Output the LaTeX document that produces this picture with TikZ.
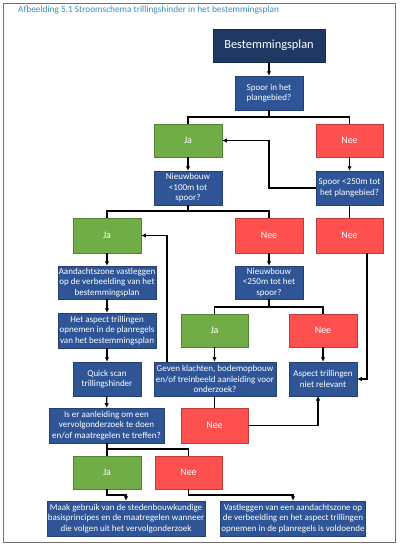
\documentclass[tikz,border=0pt]{standalone}
\usepackage{fontspec}
\setmainfont{Carlito}
\usetikzlibrary{arrows.meta,calc}
\definecolor{navy}{HTML}{203864}
\definecolor{bblue}{HTML}{2F5597}
\definecolor{ggreen}{HTML}{70AD47}
\definecolor{rred}{HTML}{FF5050}
\definecolor{ttl}{HTML}{3A8DBF}
\definecolor{framegray}{HTML}{707070}
\begin{document}
\begin{tikzpicture}[x=1pt,y=-1pt,
  box/.style={draw=#1!75!black, fill=#1, line width=0.5pt, text=white, align=center,
    inner sep=1pt, font=\fontsize{9}{10.5}\selectfont},
  qbox/.style={box=bblue},
  topbox/.style={box=navy, font=\fontsize{12.4}{14}\selectfont},
  jabox/.style={box=ggreen, font=\fontsize{10}{12}\selectfont},
  neebox/.style={box=rred, font=\fontsize{10}{12}\selectfont},
  ln/.style={draw=black, line width=1.1pt},
  arr/.style={ln, -{Latex[length=4.5pt,width=4.5pt]}},
  titlestyle/.style={text=ttl, font=\fontsize{9.3}{11}\selectfont, inner sep=0pt},
  framestyle/.style={draw=framegray, line width=0.8pt}
]
\useasboundingbox (0,0) rectangle (404,546);
\draw[framestyle] (3,3) rectangle (395,542);
\node[titlestyle, anchor=west] (title) at (18,10) {Afbeelding 5.1 Stroomschema trillingshinder in het bestemmingsplan};

% boxes
\node[topbox, minimum width=112, minimum height=33] (best) at (269,45.5) {Bestemmingsplan};
\node[qbox, minimum width=68, minimum height=34] (spoor) at (269,93) {Spoor in het\\plangebied?};
\node[jabox, minimum width=68, minimum height=33] (ja1) at (188,140.5) {Ja};
\node[neebox, minimum width=67, minimum height=33] (nee1) at (349.5,140.5) {Nee};
\node[qbox, minimum width=68, minimum height=34] (nb100) at (188,188) {Nieuwbouw\\<100m tot\\spoor?};
\node[qbox, minimum width=67, minimum height=34] (sp250) at (349.5,188) {Spoor <250m tot\\het plangebied?};
\node[jabox, minimum width=68, minimum height=35] (ja2) at (107,235.5) {Ja};
\node[neebox, minimum width=68, minimum height=35] (nee2) at (269,235.5) {Nee};
\node[neebox, minimum width=67, minimum height=35] (nee3) at (349.5,235.5) {Nee};
\node[qbox, minimum width=98, minimum height=33] (aand) at (107,282.5) {Aandachtszone vastleggen\\op de verbeelding van het\\bestemmingsplan};
\node[qbox, minimum width=68, minimum height=33] (nb250) at (269,282.5) {Nieuwbouw\\<250m tot het\\spoor?};
\node[qbox, minimum width=98, minimum height=35] (aspect) at (107,330.5) {Het aspect trillingen\\opnemen in de planregels\\van het bestemmingsplan};
\node[jabox, minimum width=67, minimum height=33] (ja3) at (214.5,330.5) {Ja};
\node[neebox, minimum width=68, minimum height=33] (nee4) at (323,330.5) {Nee};
\node[qbox, minimum width=68, minimum height=34] (quick) at (107,379) {Quick scan\\trillingshinder};
\node[qbox, minimum width=122, minimum height=34] (geven) at (215,379) {Geven klachten, bodemopbouw\\en/of treinbeeld aanleiding voor\\onderzoek?};
\node[qbox, minimum width=68, minimum height=34] (aspnr) at (323,379) {Aspect trillingen\\niet relevant};
\node[qbox, minimum width=115, minimum height=35] (iser) at (106.5,425.5) {Is er aanleiding om een\\vervolgonderzoek te doen\\en/of maatregelen te treffen?};
\node[neebox, minimum width=67, minimum height=35] (nee5) at (214.5,425.5) {Nee};
\node[jabox, minimum width=68, minimum height=33] (ja4) at (107,472.5) {Ja};
\node[neebox, minimum width=67, minimum height=33] (nee6) at (188.5,472.5) {Nee};
\node[qbox, minimum width=158, minimum height=35] (maak) at (126,518.5) {Maak gebruik van de stedenbouwkundige\\basisprincipes en de maatregelen wanneer\\die volgen uit het vervolgonderzoek};
\node[qbox, minimum width=144, minimum height=35] (vast) at (293,518.5) {Vastleggen van een aandachtszone op\\de verbeelding en het aspect trillingen\\opnemen in de planregels is voldoende};

% junction coordinates
\coordinate (j1) at (269,117);
\coordinate (j2) at (188,211);
\coordinate (j3) at (269,307);
\coordinate (j4) at (107,449);
\coordinate (j5) at (126,495);
\coordinate (j6) at (293,495);
\coordinate (k1) at (269,188);
\coordinate (k2) at (367,253);
\coordinate (k3) at (167,362);
\coordinate (k4) at (318,396);

% connectors
\draw[arr] (best) -- (spoor);
\draw[ln] (spoor.south) -- (j1) -| (ja1.north);
\draw[ln] (j1) -| (nee1.north);
\draw[arr] (ja1) -- (nb100);
\draw[arr] (nee1) -- (sp250);
\draw[arr] (sp250.west) -- (k1) |- (ja1.east);
\draw[ln] (nb100.south) -- (j2) -| (ja2.north);
\draw[ln] (j2) -| (nee2.north);
\draw[ln] (sp250) -- (nee3);
\draw[arr] (ja2) -- (aand);
\draw[arr] (nee2) -- (nb250);
\draw[arr] (aand) -- (aspect);
\draw[arr] (aspect) -- (quick);
\draw[arr] (quick) -- (iser);
\draw[ln] (nb250.south) -- (j3) -| (ja3.north);
\draw[ln] (j3) -| (nee4.north);
\draw[arr] (ja3.south) -- (ja3.south |- geven.north);
\draw[arr] (nee4) -- (aspnr);
\draw[arr] (k2) |- (aspnr.east);
\draw[arr] (k3) |- (ja2.east);
\draw[ln] (geven.south -| nee5.north) -- (nee5.north);
\draw[arr] (nee5.east) -| (k4);
\draw[ln] (iser.south -| j4) -- (j4) -| (nee6.north);
\draw[ln] (j4) -- (ja4.north);
\draw[arr] (ja4.south) |- (j5) -- (j5 |- maak.north);
\draw[arr] (nee6.south) |- (j6) -- (j6 |- vast.north);
\end{tikzpicture}
\end{document}
